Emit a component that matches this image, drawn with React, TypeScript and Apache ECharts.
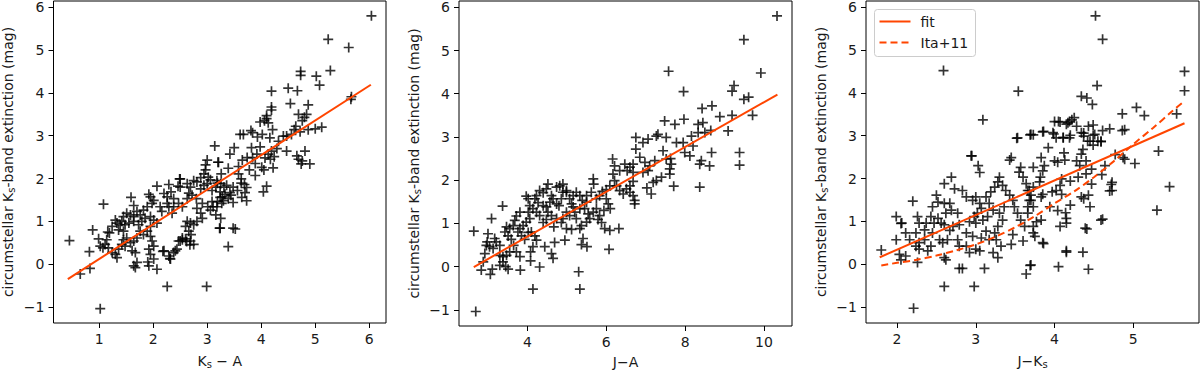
import React, { useEffect, useRef } from "react";
import * as echarts from "echarts";

const FONT = "DejaVu Sans";
const RED = "#ff4500";

// Panel 1: Ks - A vs circumstellar Ks extinction
const ksA: number[][] = [
[6.04,5.80],[5.24,5.25],[5.62,5.06],[5.28,4.52],[4.73,4.50],[4.73,4.41],[5.02,4.39],[5.08,4.18],[4.19,4.04],[4.50,4.11],[4.67,4.05],[5.67,3.91],[5.66,3.85],[4.19,3.67],[4.54,3.75],[4.87,3.72],[4.10,3.47],[4.69,3.50],[4.84,3.50],
[4.19,3.60],[4.10,3.40],[4.06,3.35],[3.98,3.32],[4.13,3.30],[4.21,3.14],[4.02,3.03],[4.16,2.95],[3.93,2.97],[3.84,3.07],[3.81,3.12],
[4.80,3.43],[4.76,3.35],[4.64,3.22],[4.61,3.14],[4.56,3.03],[4.47,2.99],[4.41,2.99],[4.72,3.09],[4.87,3.14],[5.00,3.16],[5.12,3.20],
[4.32,2.87],[4.29,2.70],[4.19,2.64],[4.13,2.57],[4.07,2.48],[4.17,2.45],[4.24,2.51],[4.47,2.64],[4.66,2.53],[4.69,2.45],[4.74,2.34],[4.81,2.64],[4.90,2.34],[4.76,2.41],
[3.61,3.03],[3.67,3.03],[3.50,2.72],[3.42,2.57],[3.82,2.72],[3.92,2.57],[3.98,2.74],
[3.21,2.38],[3.39,2.24],[3.26,2.11],[3.18,1.95],[3.58,2.28],[3.65,2.43],[3.74,2.49],[3.84,2.49],[3.89,2.35],[3.78,2.20],[3.89,2.07],[4.01,2.26],[4.05,2.20],[4.22,2.25],
[3.58,2.11],[3.63,1.99],[3.63,1.89],[3.69,1.86],[3.73,1.79],[3.70,1.67],[3.64,1.56],[3.73,1.48],[3.56,1.72],[3.48,1.80],[3.42,1.67],[3.36,1.84],[3.33,1.63],[3.30,1.48],[3.24,1.56],[3.39,1.53],[3.48,1.44],[3.44,1.61],[3.27,1.42],[3.18,1.34],
[4.04,1.69],[4.10,1.82],[3.23,0.84],[3.48,0.84],[3.52,0.82],[3.39,0.41],
[3.14,2.76],[3.00,2.43],[3.20,2.38],[2.97,2.32],[2.97,2.20],[2.94,2.11],[3.02,2.03],[3.06,1.97],[2.88,2.02],[2.81,1.92],[2.75,1.95],[2.69,1.80],[2.63,1.88],[2.50,1.99],[2.50,1.80],[2.66,1.66],[2.63,1.53],[2.72,1.61],[2.80,1.53],[2.88,1.76],[2.94,1.84],[3.00,1.88],[3.09,1.72],[3.16,1.80],[3.19,1.89],[3.25,1.88],[3.31,1.80],[3.24,1.69],[3.28,1.57],[3.19,1.46],[3.09,1.46],[3.11,1.34],[3.06,1.26],[3.16,1.15],[3.25,1.07],[3.24,0.84],[3.01,1.34],[2.91,1.42],[2.81,1.30],[2.88,1.19],[2.91,1.07],[2.81,1.00],[2.75,0.92],[2.69,0.96],[2.63,1.00],[2.60,0.88],[2.66,0.77],[2.70,0.69],[2.69,0.54],[2.75,0.46],[2.54,0.61],[2.47,0.54],[2.44,0.35],[2.38,0.27],
[1.08,1.40],[1.59,1.56],[1.64,1.37],[2.07,1.82],[1.92,1.63],[1.95,1.57],[2.01,1.49],[1.98,1.42],[2.29,1.86],[2.46,1.82],[2.49,1.99],
[2.20,1.65],[2.26,1.57],[2.33,1.69],[2.38,1.53],[2.26,1.42],[2.13,1.34],[2.16,1.23],[2.29,1.34],[2.38,1.34],[2.35,1.19],[2.47,1.42],[2.54,1.34],
[1.89,1.34],[1.82,1.26],[1.76,1.15],[1.70,1.23],[1.64,1.11],[1.58,1.15],[1.51,1.19],[1.45,1.11],[1.42,1.00],[1.48,0.92],[1.39,0.92],[1.33,0.96],[1.30,1.03],[1.36,0.80],[1.45,0.77],[1.55,0.96],[1.64,1.00],[1.73,0.92],[1.79,1.00],[1.85,1.07],[1.95,1.11],[2.01,1.03],[2.07,0.96],[1.95,0.88],[1.89,0.77],[1.82,0.69],[1.76,0.77],[1.70,0.61],[1.64,0.54],[1.58,0.50],[1.51,0.61],[1.48,0.42],[1.61,0.31],[1.67,0.27],[1.70,0.04],[1.64,-0.04],[1.95,0.65],[1.98,0.54],[2.01,0.42],[1.92,0.35],[1.95,0.23],[2.01,0.12],[1.92,-0.04],[2.07,-0.12],[2.20,0.31],[2.29,0.19],[2.32,0.12],[2.41,0.31],[2.50,0.54],[2.60,0.59],
[1.24,0.88],[1.19,0.73],[1.14,0.57],[1.11,0.46],[1.07,0.38],[1.02,0.42],[1.17,0.38],[1.24,0.27],[1.30,0.23],[1.33,0.15],[1.36,0.35],[1.42,0.46],[1.45,0.57],
[0.88,0.80],[1.16,0.75],[0.99,0.59],[0.82,0.29],[0.83,-0.10],[0.65,-0.23],[0.45,0.55],[1.02,-1.04],[2.26,-0.52],[2.99,-0.52],
[2.54,0.57],[2.62,0.53],[2.68,0.45],[2.18,0.30],[2.31,0.13],[1.90,0.05],[1.67,-0.08]
];

// Panel 2: J - A
const jA: number[][] = [
[10.33,5.80],[9.49,5.25],[7.58,4.52],[9.92,4.48],[7.96,4.05],[9.24,4.19],[9.19,4.06],[9.49,3.87],[9.61,3.92],[8.43,3.66],[8.68,3.72],[8.88,3.47],[9.19,3.50],[9.71,3.50],
[9.09,3.14],[9.38,2.64],[9.38,2.35],[8.65,3.15],[8.45,3.33],[8.33,3.29],[8.16,3.02],[8.33,3.10],[8.50,3.10],[8.20,2.79],[8.12,2.56],[8.41,2.45],[8.37,2.37],[8.62,2.33],[8.67,2.64],[8.37,1.84],
[7.97,3.41],[7.74,3.29],[7.78,2.87],[7.95,2.87],[7.99,2.64],[7.52,2.99],[7.48,3.37],[7.27,3.02],[7.31,3.06],[7.06,2.95],[6.93,2.87],[6.75,2.99],[6.75,2.72],[6.68,2.37],[6.85,2.53],[6.98,2.41],[7.10,2.33],[7.23,2.45],[7.44,2.68],[7.52,2.49],[7.63,2.50],[7.65,2.37],[7.61,2.26],[7.61,2.14],[7.71,1.86],[7.40,2.07],[7.27,1.99],[7.14,1.68],[7.19,1.95],[7.03,1.82],[6.93,2.18],[7.06,2.22],
[6.68,2.18],[6.68,1.97],[6.60,1.87],[6.68,1.64],[6.72,1.53],[6.72,1.45],[6.60,1.72],[6.51,1.80],[6.43,1.68],[6.34,1.76],[6.26,1.87],[6.21,1.99],[6.17,2.14],[6.16,2.49],[6.21,2.33],[6.34,2.22],[6.47,2.37],[6.53,2.22],[6.60,2.30],
[6.09,1.87],[6.00,1.78],[5.90,1.74],[5.83,1.64],[5.75,1.57],[6.00,1.57],[6.05,1.45],[6.10,1.34],[5.94,1.30],[5.83,1.18],[5.79,1.09],[5.88,1.02],[5.96,0.88],[6.09,0.84],[6.32,0.88],[6.07,0.40],
[5.67,2.03],[5.68,1.91],[5.62,1.72],[5.50,1.64],[5.50,1.49],[5.39,1.53],[5.33,1.64],[5.24,1.72],[5.16,1.64],[5.07,1.57],[4.99,1.72],[4.90,1.72],[4.86,1.57],[4.80,1.41],[4.74,1.45],[4.65,1.57],[4.61,1.64],[4.74,1.84],[4.82,1.87],[4.90,1.91],[4.99,1.76],[5.12,1.45],[5.16,1.38],[5.20,1.26],[5.33,1.34],[5.45,1.34],[5.54,1.22],[5.67,1.26],[5.75,1.34],[5.58,1.11],[5.50,1.03],[5.37,0.95],[5.24,1.11],[5.07,1.18],[4.99,1.26],[4.90,1.11],[4.86,1.02],[4.74,1.11],[4.67,0.92],[4.99,0.88],[5.12,0.86],[5.33,0.88],[5.41,0.65],[5.51,0.46],[5.37,0.51],[4.95,0.61],[5.30,-0.12],[5.33,-0.52],
[4.52,1.91],[4.48,1.80],[4.40,1.71],[4.31,1.76],[4.23,1.64],[4.19,1.57],[4.27,1.48],[4.40,1.41],[4.48,1.38],[4.57,1.49],[4.52,1.26],[4.61,1.18],[4.48,1.09],[4.40,1.02],[4.31,1.18],[4.23,1.26],[4.14,1.34],[4.06,1.41],[4.02,1.57],[3.97,1.63],[4.02,1.26],[4.06,1.11],[3.97,1.03],[3.89,0.95],[3.81,0.88],[3.76,0.80],[3.85,0.71],[3.93,0.63],[4.02,0.79],[4.10,0.80],[4.19,0.71],[4.23,0.61],[4.14,0.46],[4.08,0.34],[4.08,0.13],[4.31,-0.01],[4.44,0.46],[4.61,0.30],[4.65,0.19],[4.69,0.56],[4.14,-0.52],
[3.81,1.26],[3.72,1.17],[3.68,1.07],[3.64,0.95],[3.55,0.88],[3.47,0.92],[3.43,0.80],[3.51,0.71],[3.59,0.63],[3.65,0.49],[3.72,0.34],[3.81,0.23],[3.55,0.34],[3.47,0.26],[3.38,0.23],[3.30,0.26],[3.30,0.49],[3.21,0.57],[3.17,0.65],[3.13,0.42],[3.04,0.46],[2.96,0.49],[2.92,0.30],[2.88,0.11],[2.83,-0.08],[3.06,-0.18],[3.11,-0.06],[3.30,0.03],[3.38,0.11],[3.45,0.00],[3.51,-0.06],[3.82,-0.08],[3.37,1.40],[3.09,1.11],[3.00,0.76],[2.98,0.57],[2.64,0.82],[2.69,-1.04]
];

// Panel 3: J - Ks
const jKs: number[][] = [
[4.52,5.80],[4.61,5.25],[2.59,4.52],[5.65,4.50],[5.65,4.05],[3.54,4.04],[4.54,4.17],[4.34,3.92],[4.41,3.88],[4.48,3.73],[5.04,3.66],[5.14,3.47],[4.86,3.51],[5.55,3.51],
[3.09,3.37],[2.94,2.53],[3.03,2.30],[3.05,2.14],[3.53,2.95],[3.69,3.02],[3.73,3.02],
[3.86,3.10],[4.00,3.33],[4.05,3.33],[4.15,3.27],[4.19,3.33],[4.25,3.42],[4.28,3.22],[4.37,3.06],[4.43,3.22],[4.49,3.25],[4.49,3.01],[4.59,2.86],[4.61,3.12],[4.70,3.16],[4.86,3.12],[3.99,3.04],[4.11,2.96],[4.20,3.01],
[5.32,2.64],[5.46,1.81],[5.30,1.26],[5.02,2.35],[4.87,2.49],[4.77,2.56],[4.73,1.91],[4.73,1.72],[4.60,2.09],[4.61,1.05],[4.47,1.87],[4.37,1.53],[4.45,1.34],[4.39,0.84],[4.41,0.82],[4.36,0.28],[4.43,-0.12],[4.05,-0.06],[4.15,0.28],[3.69,-0.03],[3.64,-0.23],[3.86,0.48],
[4.07,3.32],[4.17,3.30],[4.22,3.37],[4.34,3.07],[4.37,2.99],[4.51,3.03],[4.42,2.87],[4.45,2.87],[4.49,2.78],[4.55,2.87],[4.59,2.87],[4.89,3.14],[4.89,2.45],[4.64,2.30],[4.72,1.86],[4.70,1.71],[4.59,1.03],[4.15,0.31],[3.70,-0.02],[3.85,0.50],
[3.92,2.72],[3.83,2.49],[4.12,2.60],[4.00,2.41],[4.04,2.38],[4.13,2.43],[4.28,2.41],[4.32,2.30],[4.40,2.41],[4.47,2.22],[4.40,2.11],[4.30,2.03],[4.20,1.94],[4.09,1.99],[4.07,1.84],[4.02,1.72],[4.09,1.63],[3.97,1.69],[3.85,1.63],[3.83,1.57],[3.94,1.34],[4.04,1.25],[4.14,1.20],[4.15,1.07],[4.15,0.96],[4.07,0.88],[3.83,1.03],[3.77,0.99],[3.73,0.88],[3.73,0.73],[3.75,0.65],[3.85,2.18],[3.87,2.30],[3.82,2.03],[3.81,1.92],[3.73,2.26],[3.73,1.80],[3.66,1.72],[3.70,1.61],[3.68,1.49],[3.66,1.34],[3.73,1.34],[3.66,1.19],[3.70,3.03],[3.85,3.09],[3.98,3.07],[4.02,2.95],[4.11,2.95],[4.19,2.95],[4.34,2.57],[4.36,2.68],[4.20,1.38],[4.34,1.57],[4.43,1.61],
[3.52,2.94],[2.95,2.53],[3.43,2.43],[3.45,2.49],[2.69,2.03],[2.60,1.88],[2.20,1.47],
[1.99,1.11],[2.06,0.96],[1.99,0.57],[2.11,0.73],[2.24,0.73],[2.26,1.11],[2.28,0.96],[2.45,1.34],[2.50,1.61],[2.52,1.07],[2.47,0.96],[2.56,0.96],[2.60,0.92],[2.62,1.19],[2.67,1.42],[2.73,1.76],[2.83,1.72],[2.88,1.57],[2.77,1.19],[2.79,0.92],[2.71,0.88],[2.67,0.79],[2.64,0.57],[2.58,0.50],[2.54,0.57],[2.43,0.42],[2.39,0.31],[2.35,0.57],[2.28,0.50],[2.24,0.42],[2.28,0.35],[2.26,0.04],[2.11,0.19],[2.03,0.23],[2.05,0.10],[1.80,0.33],[2.60,0.15],[2.62,0.10],[2.79,-0.10],[2.83,-0.10],[3.11,-0.10],[2.60,-0.52],[2.98,-0.52],[2.21,-1.03],
[2.96,1.49],[3.00,1.57],[3.05,1.42],[3.07,1.30],[3.02,1.19],[2.98,1.11],[2.92,0.99],[3.00,0.96],[3.09,1.03],[3.15,1.11],[3.22,1.26],[3.17,1.42],[3.13,1.57],[3.19,1.69],[3.24,1.80],[3.28,1.92],[3.30,2.03],[3.34,1.84],[3.38,1.72],[3.43,1.61],[3.47,1.49],[3.49,1.34],[3.53,1.19],[3.57,1.03],[3.62,0.88],[3.70,1.49],[3.68,1.72],[3.64,1.88],[3.60,2.03],[3.55,2.15],[3.57,2.26],[3.36,1.34],[3.30,1.19],[3.34,1.03],[3.28,0.88],[3.24,0.73],[3.13,0.77],[3.07,0.61],[3.17,0.57],[3.26,0.57],[3.32,0.42],[3.22,0.27],[3.28,0.15],[3.45,0.46],[3.60,0.54],[3.47,0.69],[2.77,0.57],[2.79,0.42],[2.88,0.42],[2.92,0.27],[3.00,0.35],[3.05,0.31],[2.88,0.73],[2.96,0.65],[2.69,1.26],[2.60,1.42],[2.52,1.45],[2.43,1.11],[2.37,0.96],[2.35,0.80],[2.16,0.57],[2.45,0.73],[2.05,0.95]
];

// Fit lines
const fit1X = [0.42, 6.03];
const fit1Y = [-0.35, 4.19];
const fit2X = [2.64, 10.34];
const fit2Y = [-0.01, 3.98];
const fit3X = [1.78, 5.65];
const fit3Y = [0.16, 3.29];
// Ita+11 relation (dashed)
const itaX = [1.80, 2.0, 2.25, 2.5, 2.75, 3.0, 3.25, 3.5, 3.75, 4.0, 4.25, 4.5, 4.75, 5.0, 5.25, 5.5, 5.65];
const itaY = [-0.03, 0.03, 0.10, 0.20, 0.32, 0.46, 0.64, 0.86, 1.12, 1.42, 1.70, 2.03, 2.40, 2.80, 3.18, 3.58, 3.81];

const legendNames = ["fit", "Ita+11"];

const yTicks = [-1, 0, 1, 2, 3, 4, 5, 6];
const xTicks1 = [1, 2, 3, 4, 5, 6];
const xTicks2 = [4, 6, 8, 10];
const xTicks3 = [2, 3, 4, 5];

const xRanges = [[0.155, 6.31], [2.265, 10.71], [1.606, 5.834]];
const yRange = [-1.375, 6.146];

const pair = (xs: number[], ys: number[]) => xs.map((x, i) => [x, ys[i]]);

const fmt = (v: number) => (v < 0 ? "\u2212" + Math.abs(v) : String(v));

const TXT = "#1a1a1a";
const richBase = {
  t: { fontSize: 14, fontFamily: FONT, color: TXT },
  s: { fontSize: 10, fontFamily: FONT, color: TXT, padding: [7, 0, 0, 0] },
};

export default function App() {
  const ref = useRef<HTMLDivElement>(null);
  useEffect(() => {
    if (!ref.current) return;
    const chart = echarts.init(ref.current, null, { renderer: "svg" });
    const lefts = [53, 459, 866];
    const grids = lefts.map((l) => ({
      left: l,
      top: 1,
      width: 333,
      height: 327,
      show: true,
      borderColor: "#000",
      borderWidth: 1,
      backgroundColor: "#fff",
    }));
    const xTicksAll = [xTicks1, xTicks2, xTicks3];
    const xNames = [
      "{t|K}{s|s}{t| \u2212 A}",
      "{t|J\u2212A}",
      "{t|J\u2212K}{s|s}",
    ];
    const xAxes = [0, 1, 2].map((i) => ({
      type: "value",
      gridIndex: i,
      min: xRanges[i][0],
      max: xRanges[i][1],
      name: xNames[i],
      nameLocation: "middle",
      nameGap: 29,
      nameTextStyle: { rich: richBase },
      axisLine: { show: false, onZero: false },
      splitLine: { show: false },
      axisTick: { show: true, length: 5, lineStyle: { color: "#000", width: 1 }, customValues: xTicksAll[i] },
      axisLabel: { customValues: xTicksAll[i], formatter: fmt, fontSize: 14, fontFamily: FONT, color: TXT, margin: 9 },
    }));
    const yAxes = [0, 1, 2].map((i) => ({
      type: "value",
      gridIndex: i,
      min: yRange[0],
      max: yRange[1],
      name: "{t|circumstellar K}{s|s}{t|-band extinction (mag)}",
      nameLocation: "middle",
      nameGap: 37,
      nameTextStyle: { rich: richBase },
      axisLine: { show: false, onZero: false },
      splitLine: { show: false },
      axisTick: { show: true, length: 5, lineStyle: { color: "#000", width: 1 }, customValues: yTicks },
      axisLabel: { customValues: yTicks, formatter: fmt, fontSize: 14, fontFamily: FONT, color: TXT, margin: 9 },
    }));
    const cross = "path://M0,5 L10,5 M5,0 L5,10";
    const scatter = (data: number[][], i: number) => ({
      type: "scatter",
      name: "pts" + i,
      xAxisIndex: i,
      yAxisIndex: i,
      data,
      symbol: cross,
      symbolSize: 10,
      itemStyle: { color: "#000", borderColor: "#000", borderWidth: 1.7 },
      z: 2,
    });
    const line = (name: string, data: number[][], i: number, dashed = false) => ({
      type: "line",
      name,
      xAxisIndex: i,
      yAxisIndex: i,
      data,
      symbol: "none",
      smooth: dashed ? 0.3 : false,
      lineStyle: { color: RED, width: 2, type: dashed ? [7, 4] : "solid" },
      itemStyle: { color: RED },
      z: 3,
    });
    chart.setOption({
      animation: false,
      backgroundColor: "#fff",
      grid: grids,
      xAxis: xAxes,
      yAxis: yAxes,
      graphic: [
        {
          type: "group",
          left: 874,
          top: 9,
          z: 10,
          children: [
            {
              type: "rect",
              shape: { x: 0, y: 0, width: 101, height: 47, r: 3 },
              style: { fill: "rgba(255,255,255,0.85)", stroke: "#cccccc", lineWidth: 1 },
            },
            {
              type: "line",
              shape: { x1: 5, y1: 12, x2: 36, y2: 12 },
              style: { stroke: RED, lineWidth: 2 },
            },
            {
              type: "line",
              shape: { x1: 5, y1: 33, x2: 36, y2: 33 },
              style: { stroke: RED, lineWidth: 2, lineDash: [7, 4] },
            },
            {
              type: "text",
              x: 46,
              y: 12,
              style: { text: legendNames[0], font: `14px "${FONT}"`, fill: TXT, verticalAlign: "middle" },
            },
            {
              type: "text",
              x: 46,
              y: 33,
              style: { text: legendNames[1], font: `14px "${FONT}"`, fill: TXT, verticalAlign: "middle" },
            },
          ],
        },
      ],
      series: [
        scatter(ksA, 0),
        scatter(jA, 1),
        scatter(jKs, 2),
        line("fit Ks-A", pair(fit1X, fit1Y), 0),
        line("fit J-A", pair(fit2X, fit2Y), 1),
        line(legendNames[0], pair(fit3X, fit3Y), 2),
        line(legendNames[1], pair(itaX, itaY), 2, true),
      ],
    });
    return () => chart.dispose();
  }, []);
  return (
    <div
      ref={ref}
      style={{ position: "fixed", left: 0, top: 0, width: 1200, height: 374, background: "#fff" }}
    />
  );
}
